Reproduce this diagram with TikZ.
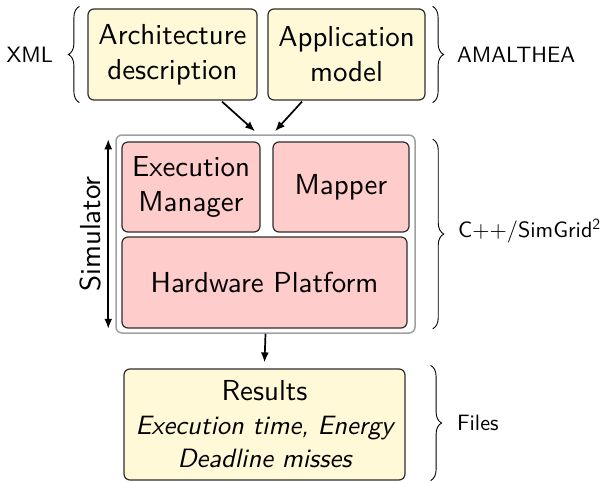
\documentclass[tikz,border=0pt]{standalone}
\usepackage{fontspec}
\setsansfont{lmsans10-regular.otf}[ItalicFont=lmsans10-oblique.otf]
\usetikzlibrary{arrows.meta,decorations.pathreplacing,calc}
\definecolor{inbox}{RGB}{255,249,216}
\definecolor{simbox}{RGB}{255,204,204}
\definecolor{boxline}{RGB}{45,45,45}
\definecolor{frameline}{RGB}{160,160,160}
\newcommand{\smallit}{\fontsize{26.5}{34}\selectfont\itshape}
\begin{document}
\begin{tikzpicture}[
  x=1pt, y=1pt,
  every node/.style={font=\sffamily},
  bigfont/.style={font=\sffamily\fontsize{28.9}{35}\selectfont},
  sidefont/.style={font=\sffamily\fontsize{22.2}{26}\selectfont},
  filebox/.style={draw=boxline, line width=1.2pt, fill=inbox, rounded corners=6pt,
    inner sep=0pt, align=center, bigfont},
  partbox/.style={draw=boxline, line width=1.2pt, fill=simbox, rounded corners=6pt,
    inner sep=0pt, align=center, bigfont},
  arr/.style={-{Latex[length=10pt,width=8pt]}, line width=1.7pt},
  brace/.style={decorate, decoration={brace, amplitude=11pt}, line width=0.9pt},
  sidelabel/.style={sidefont, anchor=west, inner sep=0pt}
]
\useasboundingbox (0,0) rectangle (604,-482);

% input descriptions
\node[filebox, minimum width=169pt, minimum height=91pt] (arch) at (172.5,-54.5)
  {Architecture\\description};
\node[filebox, minimum width=157pt, minimum height=91pt] (app) at (346.5,-54.5)
  {Application\\model};

% simulator frame and its parts
\node[draw=frameline, line width=1.5pt, rounded corners=6pt, fill=white,
  minimum width=299pt, minimum height=198pt, inner sep=0pt] (sim) at (265.5,-234) {};
\node[partbox, minimum width=138pt, minimum height=90pt] (exec) at (191,-187)
  {Execution\\Manager};
\node[partbox, minimum width=136pt, minimum height=90pt] (mapper) at (341,-187)
  {Mapper};
\node[partbox, minimum width=285pt, minimum height=91pt] (hw) at (264.5,-282.5)
  {Hardware Platform};

% output
\node[filebox, minimum width=281pt, minimum height=111pt] (res) at (264.5,-424.5)
  {Results\\[-1pt]{\smallit Execution time, Energy}\\[-2pt]{\smallit Deadline misses}};

% data flow
\draw[arr] ([xshift=49.5pt,yshift=-1pt]arch.south) -- ([xshift=-10.5pt,yshift=3pt]sim.north);
\draw[arr] ([xshift=-44.5pt,yshift=-1pt]app.south) -- ([xshift=9.5pt,yshift=3pt]sim.north);
\draw[arr] (sim.south) -- ([yshift=6pt]res.north);

% simulator extent
\draw[{Latex[length=10pt,width=8pt]}-{Latex[length=10pt,width=8pt]}, line width=1.7pt]
  ([xshift=-7pt,yshift=-5pt]sim.north west) -- ([xshift=-7pt,yshift=5pt]sim.south west)
  node[midway, left=6pt, anchor=south, rotate=90, bigfont, inner sep=0pt] {Simulator};

% braces and formats
\draw[brace] ([xshift=-8pt,yshift=-2pt]arch.south west) -- ([xshift=-8pt,yshift=2pt]arch.north west)
  node[midway, sidefont, anchor=east, inner sep=0pt, xshift=-26pt] (xml) {XML};
\draw[brace] ([xshift=7pt,yshift=2pt]app.north east) -- ([xshift=7pt,yshift=-2pt]app.south east)
  node[midway, sidelabel, xshift=24pt] (amal) {AMALTHEA};
\draw[brace] ([xshift=17pt,yshift=-5pt]sim.north east) -- ([xshift=17pt,yshift=5pt]sim.south east)
  node[midway, sidelabel, xshift=25pt, yshift=3pt] (cpp) {C++/SimGrid\textsuperscript{2}};
\draw[brace] ([xshift=25pt,yshift=3pt]res.north east) -- ([xshift=25pt]res.south east)
  node[midway, sidelabel, xshift=26pt] (files) {Files};
\end{tikzpicture}
\end{document}
